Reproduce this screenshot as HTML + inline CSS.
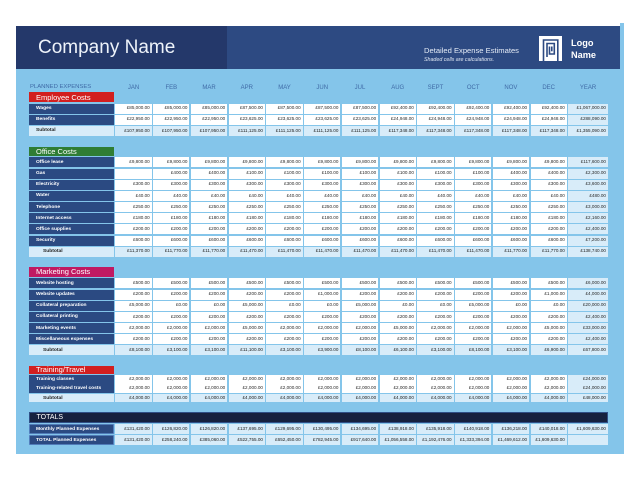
<!DOCTYPE html>
<html>
<head>
<meta charset="utf-8">
<style>
html,body{margin:0;padding:0;}
body{width:624px;height:480px;background:#fff;position:relative;overflow:hidden;font-family:"Liberation Sans",Arial,sans-serif;}
.panel{position:absolute;left:16px;top:26px;width:608px;height:428px;background:#84c5ea;}
.strip{position:absolute;left:620px;top:23px;width:4px;height:431px;background:#84c5ea;}
.hdrL{position:absolute;left:16px;top:26px;width:211px;height:43px;background:#24386a;}
.hdrR{position:absolute;left:227px;top:26px;width:393px;height:43px;background:#2d4a82;}
.cname{position:absolute;left:38px;top:37px;font-size:19px;line-height:22px;color:#eef3fa;white-space:nowrap;}
.det{position:absolute;left:424px;top:46px;font-size:7.6px;line-height:10px;color:#e4ebf6;white-space:nowrap;}
.shd{position:absolute;left:424px;top:56.5px;font-size:5.3px;line-height:7px;color:#dfe7f3;font-style:italic;white-space:nowrap;}
.logo{position:absolute;left:538.7px;top:35.7px;width:23.3px;height:25.3px;}
.lname{position:absolute;left:571px;top:38px;font-size:9.2px;line-height:11.5px;color:#fff;font-weight:bold;}
.r{position:absolute;left:29px;width:579px;display:grid;grid-template-columns:85px repeat(12,36.3px) 39.7px;column-gap:1.44px;}
.r>div{background:#fff;display:flex;align-items:center;justify-content:flex-end;padding-right:2px;font-size:4.6px;color:#2a2a2a;overflow:hidden;white-space:nowrap;line-height:1;}
.r>div:first-child{background:#2b4a82;color:#fff;justify-content:flex-start;padding-left:7px;padding-top:2px;font-weight:bold;font-size:4.9px;}
.r>div:last-child{background:#d8ecf9;}
.r.s>div{background:#d8ecf9;color:#222;}
.r.s>div:first-child{background:#d8ecf9;color:#222;padding-left:14px;}
.r.s.e>div:first-child{padding-left:7px;}
.r.t>div{background:#d8ecf9;color:#222;}
.r.t>div:first-child{background:#2b4a82;color:#fff;box-shadow:inset 0 0 0 0.8px #5d8ccb;}
.h10{height:10px;}
.h9{height:8.6px;}
.r.colh>div{background:transparent;color:#3f6aa6;justify-content:center;font-size:6px;padding:0;font-weight:normal;}
.r.colh>div:first-child{background:transparent;color:#3f6aa6;justify-content:flex-start;padding-left:1px;padding-top:0;font-size:5.9px;font-weight:normal;}
.r.colh>div:last-child{background:transparent;}
.sh{position:absolute;left:29px;width:78px;padding-left:7px;color:#fff;font-size:7.5px;white-space:nowrap;display:flex;align-items:center;line-height:1;}
.tot{position:absolute;left:29px;top:411.7px;width:577px;height:9.4px;background:#16213f;border:0.8px solid #2f4f86;color:#fff;font-size:7px;display:flex;align-items:center;line-height:1;}
</style>
</head>
<body>
<div class="panel"></div>
<div class="strip"></div>
<div class="hdrL"></div>
<div class="hdrR"></div>
<div class="cname">Company Name</div>
<div class="det">Detailed Expense Estimates</div>
<div class="shd">Shaded cells are calculations.</div>
<svg class="logo" viewBox="0 0 23.3 25.3" width="23.3" height="25.3">
<rect x="0" y="0" width="23.3" height="25.3" fill="#fff"/>
<g fill="none" stroke="#2d4a82" stroke-width="1.6">
<path d="M4.5 25.3 V4 H18.8 V25.3"/>
<path d="M8 21 V7.5 H15.3 V18 H10.5 V10.5"/>
<path d="M12.8 10.5 V15.3"/>
</g>
</svg>
<div class="lname">Logo<br>Name</div>

<div class="r colh" style="top:84px;height:8px;">
<div>PLANNED EXPENSES</div><div>JAN</div><div>FEB</div><div>MAR</div><div>APR</div><div>MAY</div><div>JUN</div><div>JUL</div><div>AUG</div><div>SEPT</div><div>OCT</div><div>NOV</div><div>DEC</div><div>YEAR</div>
</div>

<!-- Employee Costs -->
<div class="sh" style="top:92.3px;height:10px;background:#d21f1f;">Employee Costs</div>
<div class="r h10" style="top:103.6px;"><div>Wages</div><div>£85,000.00</div><div>£85,000.00</div><div>£85,000.00</div><div>£87,500.00</div><div>£87,500.00</div><div>£87,500.00</div><div>£87,500.00</div><div>£92,400.00</div><div>£92,400.00</div><div>£92,400.00</div><div>£92,400.00</div><div>£92,400.00</div><div>£1,067,000.00</div></div>
<div class="r h10" style="top:114.7px;"><div>Benefits</div><div>£22,950.00</div><div>£22,950.00</div><div>£22,950.00</div><div>£23,625.00</div><div>£23,625.00</div><div>£23,625.00</div><div>£23,625.00</div><div>£24,948.00</div><div>£24,948.00</div><div>£24,948.00</div><div>£24,948.00</div><div>£24,948.00</div><div>£288,090.00</div></div>
<div class="r h10 s e" style="top:125.8px;"><div>Subtotal</div><div>£107,950.00</div><div>£107,950.00</div><div>£107,950.00</div><div>£111,125.00</div><div>£111,125.00</div><div>£111,125.00</div><div>£111,125.00</div><div>£117,348.00</div><div>£117,348.00</div><div>£117,348.00</div><div>£117,348.00</div><div>£117,348.00</div><div>£1,355,090.00</div></div>

<!-- Office Costs -->
<div class="sh" style="top:146.8px;height:9.5px;background:#2f7d34;">Office Costs</div>
<div class="r h10" style="top:157.3px;"><div>Office lease</div><div>£9,800.00</div><div>£9,800.00</div><div>£9,800.00</div><div>£9,800.00</div><div>£9,800.00</div><div>£9,800.00</div><div>£9,800.00</div><div>£9,800.00</div><div>£9,800.00</div><div>£9,800.00</div><div>£9,800.00</div><div>£9,800.00</div><div>£117,600.00</div></div>
<div class="r h10" style="top:168.5px;"><div>Gas</div><div></div><div>£400.00</div><div>£400.00</div><div>£100.00</div><div>£100.00</div><div>£100.00</div><div>£100.00</div><div>£100.00</div><div>£100.00</div><div>£100.00</div><div>£400.00</div><div>£400.00</div><div>£2,300.00</div></div>
<div class="r h10" style="top:179.7px;"><div>Electricity</div><div>£300.00</div><div>£300.00</div><div>£300.00</div><div>£300.00</div><div>£300.00</div><div>£300.00</div><div>£300.00</div><div>£300.00</div><div>£300.00</div><div>£300.00</div><div>£300.00</div><div>£300.00</div><div>£3,600.00</div></div>
<div class="r h10" style="top:190.8px;"><div>Water</div><div>£40.00</div><div>£40.00</div><div>£40.00</div><div>£40.00</div><div>£40.00</div><div>£40.00</div><div>£40.00</div><div>£40.00</div><div>£40.00</div><div>£40.00</div><div>£40.00</div><div>£40.00</div><div>£480.00</div></div>
<div class="r h10" style="top:202px;"><div>Telephone</div><div>£250.00</div><div>£250.00</div><div>£250.00</div><div>£250.00</div><div>£250.00</div><div>£250.00</div><div>£250.00</div><div>£250.00</div><div>£250.00</div><div>£250.00</div><div>£250.00</div><div>£250.00</div><div>£3,000.00</div></div>
<div class="r h10" style="top:213.2px;"><div>Internet access</div><div>£180.00</div><div>£180.00</div><div>£180.00</div><div>£180.00</div><div>£180.00</div><div>£180.00</div><div>£180.00</div><div>£180.00</div><div>£180.00</div><div>£180.00</div><div>£180.00</div><div>£180.00</div><div>£2,160.00</div></div>
<div class="r h10" style="top:224.3px;"><div>Office supplies</div><div>£200.00</div><div>£200.00</div><div>£200.00</div><div>£200.00</div><div>£200.00</div><div>£200.00</div><div>£200.00</div><div>£200.00</div><div>£200.00</div><div>£200.00</div><div>£200.00</div><div>£200.00</div><div>£2,400.00</div></div>
<div class="r h10" style="top:235.5px;"><div>Security</div><div>£600.00</div><div>£600.00</div><div>£600.00</div><div>£600.00</div><div>£600.00</div><div>£600.00</div><div>£600.00</div><div>£600.00</div><div>£600.00</div><div>£600.00</div><div>£600.00</div><div>£600.00</div><div>£7,200.00</div></div>
<div class="r h10 s" style="top:246.7px;"><div>Subtotal</div><div>£11,370.00</div><div>£11,770.00</div><div>£11,770.00</div><div>£11,470.00</div><div>£11,470.00</div><div>£11,470.00</div><div>£11,470.00</div><div>£11,470.00</div><div>£11,470.00</div><div>£11,470.00</div><div>£11,770.00</div><div>£11,770.00</div><div>£138,740.00</div></div>

<!-- Marketing Costs -->
<div class="sh" style="top:267.3px;height:9.4px;background:#c01a62;">Marketing Costs</div>
<div class="r h10" style="top:278.3px;"><div>Website hosting</div><div>£500.00</div><div>£500.00</div><div>£500.00</div><div>£500.00</div><div>£500.00</div><div>£500.00</div><div>£500.00</div><div>£500.00</div><div>£500.00</div><div>£500.00</div><div>£500.00</div><div>£500.00</div><div>£6,000.00</div></div>
<div class="r h10" style="top:289.5px;"><div>Website updates</div><div>£200.00</div><div>£200.00</div><div>£200.00</div><div>£200.00</div><div>£200.00</div><div>£1,000.00</div><div>£200.00</div><div>£200.00</div><div>£200.00</div><div>£200.00</div><div>£200.00</div><div>£1,000.00</div><div>£4,000.00</div></div>
<div class="r h10" style="top:300.7px;"><div>Collateral preparation</div><div>£5,000.00</div><div>£0.00</div><div>£0.00</div><div>£5,000.00</div><div>£0.00</div><div>£0.00</div><div>£5,000.00</div><div>£0.00</div><div>£0.00</div><div>£5,000.00</div><div>£0.00</div><div>£0.00</div><div>£20,000.00</div></div>
<div class="r h10" style="top:311.8px;"><div>Collateral printing</div><div>£200.00</div><div>£200.00</div><div>£200.00</div><div>£200.00</div><div>£200.00</div><div>£200.00</div><div>£200.00</div><div>£200.00</div><div>£200.00</div><div>£200.00</div><div>£200.00</div><div>£200.00</div><div>£2,400.00</div></div>
<div class="r h10" style="top:323px;"><div>Marketing events</div><div>£2,000.00</div><div>£2,000.00</div><div>£2,000.00</div><div>£5,000.00</div><div>£2,000.00</div><div>£2,000.00</div><div>£2,000.00</div><div>£5,000.00</div><div>£2,000.00</div><div>£2,000.00</div><div>£2,000.00</div><div>£5,000.00</div><div>£33,000.00</div></div>
<div class="r h10" style="top:334.2px;"><div>Miscellaneous expenses</div><div>£200.00</div><div>£200.00</div><div>£200.00</div><div>£200.00</div><div>£200.00</div><div>£200.00</div><div>£200.00</div><div>£200.00</div><div>£200.00</div><div>£200.00</div><div>£200.00</div><div>£200.00</div><div>£2,400.00</div></div>
<div class="r h10 s" style="top:345.4px;"><div>Subtotal</div><div>£8,100.00</div><div>£3,100.00</div><div>£3,100.00</div><div>£11,100.00</div><div>£3,100.00</div><div>£3,900.00</div><div>£8,100.00</div><div>£6,100.00</div><div>£3,100.00</div><div>£8,100.00</div><div>£3,100.00</div><div>£6,900.00</div><div>£67,800.00</div></div>

<!-- Training/Travel -->
<div class="sh" style="top:365.6px;height:8.5px;background:#d21f1f;">Training/Travel</div>
<div class="r h9" style="top:375px;"><div>Training classes</div><div>£2,000.00</div><div>£2,000.00</div><div>£2,000.00</div><div>£2,000.00</div><div>£2,000.00</div><div>£2,000.00</div><div>£2,000.00</div><div>£2,000.00</div><div>£2,000.00</div><div>£2,000.00</div><div>£2,000.00</div><div>£2,000.00</div><div>£24,000.00</div></div>
<div class="r h9" style="top:384.3px;"><div>Training-related travel costs</div><div>£2,000.00</div><div>£2,000.00</div><div>£2,000.00</div><div>£2,000.00</div><div>£2,000.00</div><div>£2,000.00</div><div>£2,000.00</div><div>£2,000.00</div><div>£2,000.00</div><div>£2,000.00</div><div>£2,000.00</div><div>£2,000.00</div><div>£24,000.00</div></div>
<div class="r h9 s" style="top:393.7px;"><div>Subtotal</div><div>£4,000.00</div><div>£4,000.00</div><div>£4,000.00</div><div>£4,000.00</div><div>£4,000.00</div><div>£4,000.00</div><div>£4,000.00</div><div>£4,000.00</div><div>£4,000.00</div><div>£4,000.00</div><div>£4,000.00</div><div>£4,000.00</div><div>£48,000.00</div></div>

<!-- Totals -->
<div class="tot"><span style="padding-left:6.5px;">TOTALS</span></div>
<div class="r h10 t" style="top:424px;"><div>Monthly Planned Expenses</div><div>£131,420.00</div><div>£126,820.00</div><div>£126,820.00</div><div>£137,695.00</div><div>£129,695.00</div><div>£130,495.00</div><div>£134,695.00</div><div>£138,918.00</div><div>£135,918.00</div><div>£140,918.00</div><div>£136,218.00</div><div>£140,018.00</div><div>£1,609,630.00</div></div>
<div class="r t" style="top:435px;height:10.3px;"><div>TOTAL Planned Expenses</div><div>£131,420.00</div><div>£258,240.00</div><div>£385,060.00</div><div>£522,755.00</div><div>£652,450.00</div><div>£782,945.00</div><div>£917,640.00</div><div>£1,056,558.00</div><div>£1,192,476.00</div><div>£1,333,394.00</div><div>£1,469,612.00</div><div>£1,609,630.00</div><div></div></div>
</body>
</html>
